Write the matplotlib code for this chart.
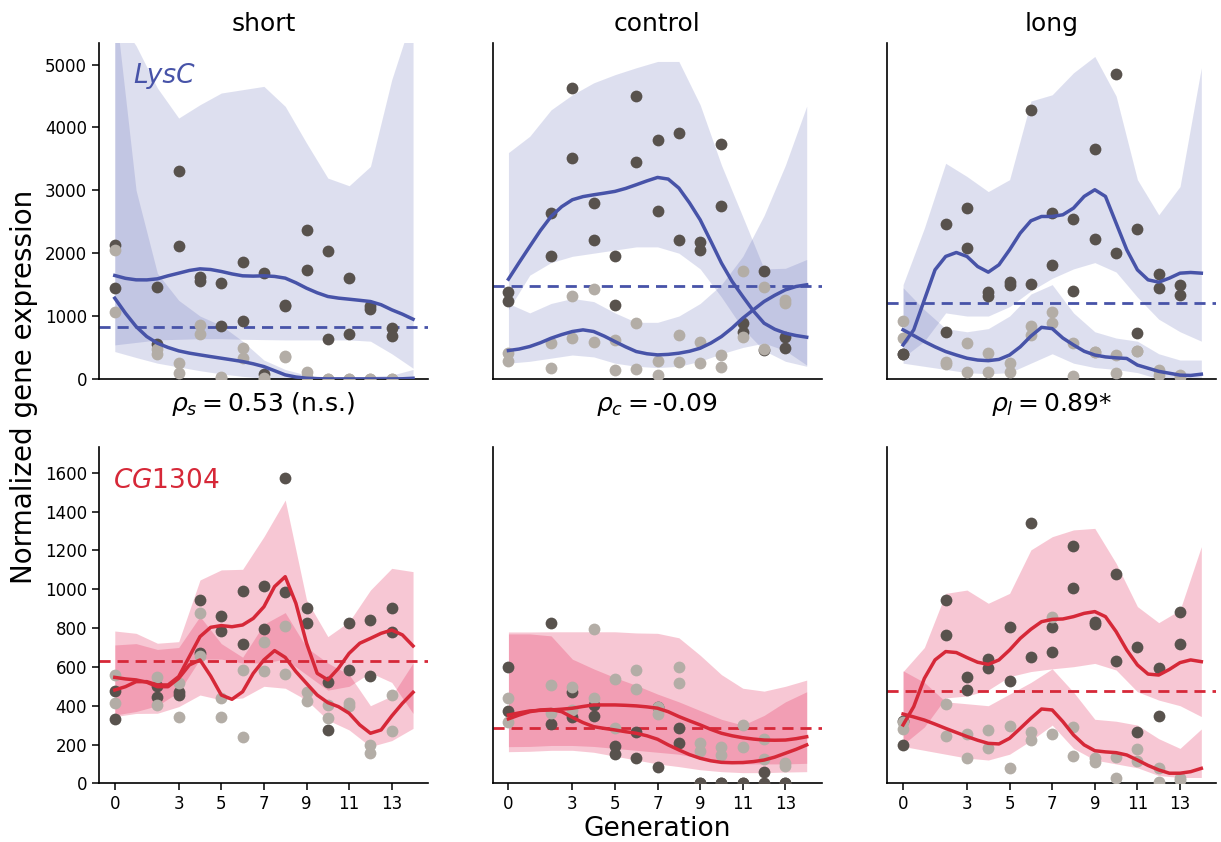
import numpy as np
import matplotlib
matplotlib.use("Agg")
import matplotlib.pyplot as plt

# generations with replicate points (two per generation)
gens = [0, 0, 2, 2, 3, 3, 4, 4, 5, 5, 6, 6, 7, 7, 8, 8, 9, 9, 10, 10, 11, 11, 12, 12, 13, 13]
# curve grid (every half generation) and band grid (every generation)
curve_x = np.arange(0, 14.5, 0.5)
band_x = np.arange(0, 15, 1)

titles_top = ["short", "control", "long"]
titles_bottom = [r"$\rho_s = 0.53$ (n.s.)", r"$\rho_c = $-0.09", r"$\rho_l = 0.89$*"]

# ---------------- LysC (top row) ----------------
lysc_dark_pts = [
    [2133, 1443, 1465, 557, 3311, 2107, 1619, 1550, 1523, 844, 1857, 923, 1682, 80,
     1167, 1180, 2362, 1735, 2038, 642, 1603, 716, 1152, 1109, 817, 685],
    [1390, 1247, 2632, 1948, 4622, 3519, 2797, 2202, 1948, 1178, 4495, 3444, 3800, 2675,
     3911, 2213, 2176, 2054, 3736, 2744, 886, 754, 1719, 462, 674, 488],
    [398, 390, 2462, 743, 2717, 2080, 1375, 1311, 1539, 1486, 4272, 1512, 2638, 1815,
     2542, 1401, 3662, 2229, 4856, 2001, 2388, 738, 1666, 1443, 1497, 1327],
]
lysc_light_pts = [
    [2054, 1072, 472, 398, 249, 90, 860, 716, 35, 10, 488, 329, 10, 0,
     371, 350, 117, 30, 0, 0, 0, 0, 0, 0, 0, 0],
    [419, 287, 568, 170, 1321, 647, 1428, 584, 621, 143, 897, 159, 287, 64,
     700, 276, 584, 249, 382, 196, 1719, 674, 1459, 472, 1258, 1215],
    [923, 647, 276, 240, 568, 106, 409, 117, 249, 117, 849, 700, 1072, 886,
     568, 53, 435, 420, 382, 90, 451, 440, 143, 60, 64, 37],
]
lysc_dark_line = [
    [1645, 1600, 1576, 1575, 1592, 1640, 1682, 1725, 1751, 1740, 1709, 1670, 1640, 1635, 1640,
     1630, 1603, 1530, 1443, 1370, 1311, 1285, 1268, 1250, 1231, 1180, 1099, 1030, 950],
    [1587, 1850, 2107, 2360, 2584, 2740, 2850, 2900, 2929, 2955, 2983, 3030, 3089, 3150, 3205,
     3179, 3036, 2800, 2531, 2190, 1842, 1550, 1311, 1080, 886, 790, 727, 690, 663],
    [541, 780, 1258, 1735, 1948, 2011, 1948, 1788, 1698, 1815, 2054, 2319, 2515, 2584, 2584,
     2611, 2717, 2903, 3009, 2903, 2478, 2054, 1735, 1576, 1539, 1603, 1682, 1693, 1682],
]
lysc_light_line = [
    [1284, 1045, 833, 674, 568, 500, 446, 410, 382, 355, 329, 303, 276, 240, 196,
     130, 64, 30, 11, 3, 0, 0, 0, 0, 0, 0, 0, 2, 10],
    [451, 475, 515, 575, 647, 705, 754, 780, 754, 680, 594, 510, 435, 400, 382,
     390, 409, 440, 488, 570, 674, 810, 966, 1100, 1231, 1330, 1417, 1470, 1497],
    [780, 690, 594, 510, 435, 380, 329, 300, 290, 310, 380, 510, 680, 820, 800,
     650, 540, 440, 380, 350, 335, 325, 220, 170, 120, 90, 60, 55, 75],
]
lysc_dark_hi = [
    [5800, 5300, 4628, 4150, 4362, 4548, 4601, 4654, 4336, 3752, 3195, 3073, 3380, 4760, 5800],
    [3600, 3860, 4280, 4520, 4710, 4840, 4950, 5050, 5050, 4360, 3400, 2580, 1750, 1760, 1900],
    [1500, 2400, 3430, 3220, 2980, 3170, 4420, 4520, 4870, 5130, 4500, 3170, 2610, 3060, 4950],
]
lysc_dark_lo = [
    [541, 580, 620, 630, 640, 640, 630, 625, 620, 620, 620, 620, 600, 400, 170],
    [1100, 1650, 1850, 1950, 2000, 2050, 2100, 2100, 2000, 1750, 1300, 800, 450, 280, 200],
    [340, 600, 1050, 1000, 1000, 1150, 1400, 1600, 1750, 1850, 1700, 1300, 950, 750, 600],
]
lysc_light_hi = [
    [6000, 3000, 1680, 1250, 1000, 850, 600, 300, 150, 60, 30, 30, 40, 60, 150],
    [1200, 1050, 1200, 1280, 1230, 1050, 900, 900, 1000, 1200, 1500, 1950, 2600, 3400, 4340],
    [1450, 1100, 800, 750, 800, 1000, 1350, 1500, 1050, 750, 650, 600, 400, 300, 300],
]
lysc_light_lo = [
    [435, 340, 250, 190, 130, 80, 40, 10, 0, 0, 0, 0, 0, 0, 0],
    [250, 280, 330, 380, 350, 250, 200, 180, 200, 280, 400, 500, 570, 450, 220],
    [250, 200, 150, 100, 80, 100, 250, 400, 250, 180, 150, 100, 0, 0, 0],
]
lysc_mean = [833, 1481, 1205]

# ---------------- CG1304 (bottom row) ----------------
cg_dark_pts = [
    [476, 333, 500, 446, 472, 455, 945, 673, 862, 785, 993, 716, 1019, 794,
     1575, 984, 905, 825, 524, 275, 828, 584, 842, 555, 902, 782],
    [601, 375, 828, 306, 469, 344, 404, 347, 192, 149, 266, 129, 395, 82,
     283, 206, 0, 0, 0, 0, 0, 0, 60, 0, 0, 0],
    [198, 320, 945, 764, 546, 481, 640, 593, 807, 527, 1343, 653, 807, 679,
     1223, 1005, 830, 820, 1077, 631, 701, 266, 596, 347, 881, 718],
]
cg_light_pts = [
    [560, 414, 550, 404, 515, 344, 876, 656, 438, 340, 584, 240, 730, 579,
     813, 562, 472, 426, 404, 335, 416, 400, 198, 158, 455, 271],
    [438, 318, 507, 364, 498, 378, 794, 438, 536, 283, 584, 486, 392, 356,
     598, 515, 206, 168, 186, 146, 301, 189, 227, 124, 107, 89],
    [318, 278, 409, 244, 253, 129, 275, 180, 295, 77, 266, 223, 856, 254,
     292, 143, 129, 112, 134, 26, 177, 117, 77, 9, 26, 17],
]
cg_dark_line = [
    [481, 498, 524, 524, 507, 507, 550, 653, 756, 804, 813, 807, 816, 850, 910,
     1014, 1065, 928, 722, 567, 533, 593, 670, 722, 747, 773, 790, 765, 708],
    [332, 352, 369, 378, 381, 369, 340, 313, 292, 283, 275, 266, 258, 245, 227,
     198, 172, 148, 129, 116, 108, 106, 107, 112, 120, 135, 155, 175, 198],
    [301, 395, 541, 636, 679, 674, 648, 624, 613, 636, 687, 747, 794, 833, 845,
     847, 859, 876, 885, 859, 782, 687, 610, 563, 558, 587, 622, 636, 627],
]
cg_light_line = [
    [546, 538, 533, 521, 498, 498, 541, 610, 636, 553, 455, 433, 472, 567, 636,
     684, 649, 576, 515, 455, 416, 395, 361, 301, 258, 275, 347, 412, 469],
    [352, 363, 373, 376, 378, 382, 387, 396, 404, 404, 404, 402, 399, 394, 387,
     369, 344, 322, 301, 278, 258, 245, 235, 228, 223, 222, 223, 230, 240],
    [357, 342, 326, 305, 283, 262, 241, 222, 206, 203, 232, 283, 335, 383, 378,
     318, 249, 198, 168, 162, 158, 146, 120, 92, 69, 52, 52, 60, 77],
]
cg_dark_hi = [
    [785, 773, 722, 730, 1048, 1100, 1103, 1271, 1460, 945, 756, 833, 996, 1108, 1091],
    [770, 770, 760, 640, 590, 545, 505, 460, 420, 375, 330, 300, 350, 420, 472],
    [576, 700, 979, 996, 928, 979, 1203, 1271, 1306, 1314, 1134, 911, 828, 893, 1220],
]
cg_dark_lo = [
    [352, 370, 400, 470, 640, 640, 620, 620, 640, 560, 480, 500, 570, 520, 360],
    [163, 165, 170, 170, 160, 140, 120, 100, 86, 70, 60, 55, 55, 58, 60],
    [200, 290, 440, 450, 481, 550, 576, 590, 601, 618, 584, 472, 429, 400, 344],
]
cg_light_hi = [
    [713, 720, 690, 700, 860, 720, 650, 820, 880, 700, 620, 560, 400, 450, 620],
    [780, 780, 781, 781, 781, 781, 775, 773, 750, 660, 560, 490, 475, 500, 532],
    [580, 520, 420, 410, 400, 460, 520, 590, 470, 330, 320, 300, 230, 180, 280],
]
cg_light_lo = [
    [344, 360, 361, 395, 455, 430, 440, 500, 490, 429, 326, 275, 189, 220, 283],
    [189, 190, 195, 195, 190, 180, 170, 160, 150, 130, 110, 100, 100, 100, 103],
    [190, 170, 150, 130, 120, 150, 220, 300, 180, 120, 100, 80, 40, 30, 30],
]
cg_mean = [630, 283, 476]

blue = "#4753a8"
blue_band = "#626bb8"
red = "#d62838"
red_band = "#e53360"
dark_pt = "#58524d"
light_pt = "#b3ada6"


def draw_panel(ax, dark_pts, light_pts, dark_line, light_line,
               dark_hi, dark_lo, light_hi, light_lo, mean, line_c, band_c, band_a):
    ax.fill_between(band_x, dark_lo, dark_hi, color=band_c, alpha=band_a, lw=0, zorder=1)
    ax.fill_between(band_x, light_lo, light_hi, color=band_c, alpha=band_a, lw=0, zorder=1)
    ax.axhline(mean, color=line_c, lw=2, ls=(0, (4, 2.5)), zorder=2)
    ax.scatter(gens, dark_pts, s=72, color=dark_pt, lw=0, zorder=3)
    ax.scatter(gens, light_pts, s=72, color=light_pt, lw=0, zorder=3)
    ax.plot(curve_x, dark_line, color=line_c, lw=2.5, zorder=4)
    ax.plot(curve_x, light_line, color=line_c, lw=2.5, zorder=4)


fig = plt.figure(figsize=(12.21, 8.42), dpi=100)
lefts = [0.0811, 0.4035, 0.7267]
w = 0.2694

for i in range(3):
    ax_t = fig.add_axes([lefts[i], 0.55, w, 0.3994])
    ax_b = fig.add_axes([lefts[i], 0.0697, w, 0.3998])
    draw_panel(ax_t, lysc_dark_pts[i], lysc_light_pts[i], lysc_dark_line[i], lysc_light_line[i],
               lysc_dark_hi[i], lysc_dark_lo[i], lysc_light_hi[i], lysc_light_lo[i],
               lysc_mean[i], blue, blue_band, 0.21)
    draw_panel(ax_b, cg_dark_pts[i], cg_light_pts[i], cg_dark_line[i], cg_light_line[i],
               cg_dark_hi[i], cg_dark_lo[i], cg_light_hi[i], cg_light_lo[i],
               cg_mean[i], red, red_band, 0.27)
    for ax in (ax_t, ax_b):
        ax.set_xlim(-0.74, 14.7)
        for side in ("top", "right"):
            ax.spines[side].set_visible(False)
        for side in ("left", "bottom"):
            ax.spines[side].set_linewidth(1.2)
        ax.tick_params(labelsize=12, width=1.1, length=5)
    ax_t.set_ylim(0, 5350)
    ax_b.set_ylim(0, 1735)
    ax_t.set_xticks([])
    ax_b.set_xticks([0, 3, 5, 7, 9, 11, 13])
    if i == 0:
        ax_t.set_yticks([0, 1000, 2000, 3000, 4000, 5000])
        ax_b.set_yticks(range(0, 1601, 200))
        ax_t.text(0.103, 0.88, "LysC", transform=ax_t.transAxes, color=blue,
                  fontsize=19, style="italic")
        ax_b.text(0.041, 0.877, "$CG1304$", transform=ax_b.transAxes, color=red,
                  fontsize=19)
    else:
        ax_t.set_yticks([])
        ax_b.set_yticks([])
    ax_t.set_title(titles_top[i], fontsize=18, pad=8)
    ax_b.set_title(titles_bottom[i], fontsize=18, pad=26)
    if i == 1:
        ax_b.set_xlabel("Generation", fontsize=19, labelpad=2)

fig.text(0.02, 0.54, "Normalized gene expression", rotation=90, fontsize=20,
         ha="center", va="center")

fig.savefig("out.png", dpi=100)
